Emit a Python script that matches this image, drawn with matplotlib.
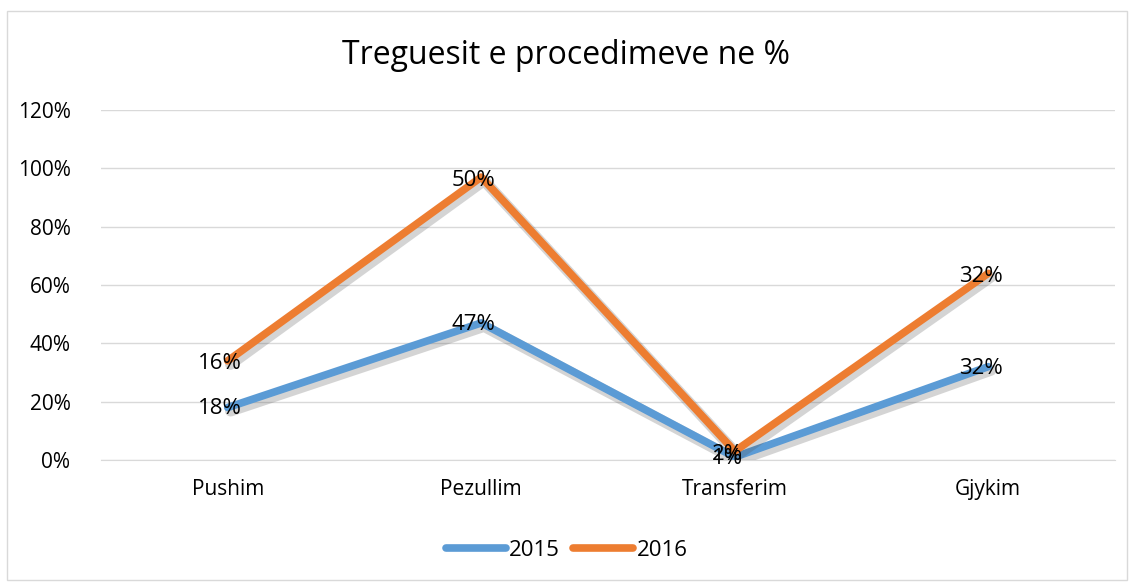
import numpy as np
import matplotlib.pyplot as plt
import matplotlib.patheffects as pe
from matplotlib.ticker import PercentFormatter

plt.rcParams['font.family'] = ['Open Sans', 'DejaVu Sans']

categories = ["Pushim", "Pezullim", "Transferim", "Gjykim"]
v2015 = [18, 47, 1, 32]
v2016 = [16, 50, 2, 32]
yticks = [0, 20, 40, 60, 80, 100, 120]

blue = "#5B9BD5"
orange = "#ED7D31"

fig = plt.figure(figsize=(11.33, 5.83), dpi=100)
# outer chart border
fig.patches.append(plt.Rectangle((7 / 1133, 1 - 580 / 583), 1120 / 1133, 569 / 583,
                                 transform=fig.transFigure, fill=False,
                                 edgecolor="#D9D9D9", lw=1))
ax = fig.add_axes([101 / 1133, 1 - 460 / 583, 1014 / 1133, 350 / 583])

x = np.arange(len(categories))
s2015 = np.array(v2015)
s2016 = s2015 + np.array(v2016)  # stacked line

shadow = [pe.SimpleLineShadow(offset=(2, -2.5), shadow_color="#555555", alpha=0.25,
                              linewidth=8),
          pe.Normal()]
ax.plot(x, s2015, color=blue, lw=5.5, solid_capstyle="round", label="2015",
        path_effects=shadow, zorder=3)
ax.plot(x, s2016, color=orange, lw=5.5, solid_capstyle="round", label="2016",
        path_effects=shadow, zorder=4)

for xi, y, v in zip(x, s2015, v2015):
    ax.text(xi - 0.03, y - 0.5, f"{v}%", ha="center", va="center", fontsize=16, zorder=5)
for xi, y, v in zip(x, s2016, v2016):
    ax.text(xi - 0.03, y - 1, f"{v}%", ha="center", va="center", fontsize=16, zorder=5)

ax.set_xlim(-0.5, len(categories) - 0.5)
ax.set_ylim(0, 120)
ax.set_yticks(yticks)
ax.yaxis.set_major_formatter(PercentFormatter(decimals=0))
ax.set_xticks(x)
ax.set_xticklabels(categories)
ax.tick_params(axis="both", length=0, labelsize=15)
ax.tick_params(axis="x", pad=14)
ax.tick_params(axis="y", pad=22)
ax.grid(axis="y", color="#D9D9D9", lw=1)
ax.set_axisbelow(True)
for s in ["top", "right", "left"]:
    ax.spines[s].set_visible(False)
ax.spines["bottom"].set_color("#D9D9D9")

fig.text(0.5, 1 - 55 / 583, "Treguesit e procedimeve ne %", ha="center", va="center",
         fontsize=23)

leg = fig.legend(loc="center", bbox_to_anchor=(0.5, 1 - 550 / 583), ncol=2, frameon=False,
                 fontsize=16, handlelength=2.7, handletextpad=0.15, columnspacing=0.6)
for line in leg.get_lines():
    line.set_linewidth(5.5)
    line.set_path_effects([])

fig.savefig("out.png", dpi=100)
